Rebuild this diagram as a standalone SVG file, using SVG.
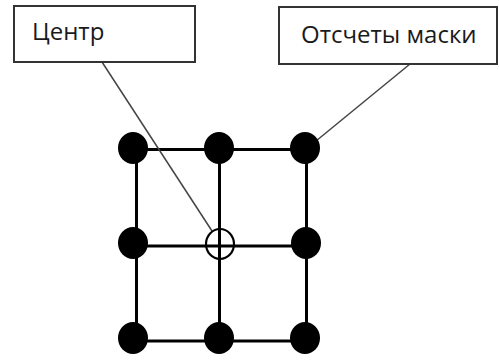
<svg xmlns="http://www.w3.org/2000/svg" width="499" height="361" viewBox="0 0 499 361">
  <style>
    .box { fill: #fff; stroke: #333; stroke-width: 2; }
    .label { font-family: "Open Sans", "Liberation Sans", sans-serif; font-size: 24px; fill: #1a1a1a; }
    .grid { stroke: #000; stroke-width: 3; fill: none; }
    .dot { fill: #000; }
    .callout { stroke: #444; stroke-width: 1.5; fill: none; }
  </style>
  <rect width="499" height="361" fill="#fff"/>

  <!-- mask grid -->
  <g id="grid">
    <line class="grid" x1="136.5" y1="149.5" x2="136.5" y2="341"/>
    <line class="grid" x1="219.5" y1="149.5" x2="219.5" y2="341"/>
    <line class="grid" x1="306.5" y1="149.5" x2="306.5" y2="341"/>
    <line class="grid" x1="136.5" y1="149.5" x2="306.5" y2="149.5"/>
    <line class="grid" x1="136.5" y1="246" x2="306.5" y2="246"/>
    <line class="grid" x1="136.5" y1="341" x2="306.5" y2="341"/>
  </g>

  <!-- leader lines -->
  <g id="connectors">
    <line class="callout" x1="102" y1="62" x2="212" y2="231"/>
    <line class="callout" x1="410" y1="64" x2="316" y2="141"/>
  </g>

  <!-- mask samples -->
  <g id="samples">
    <ellipse class="dot" cx="133" cy="148" rx="15" ry="16"/>
    <ellipse class="dot" cx="219" cy="148" rx="15" ry="16"/>
    <ellipse class="dot" cx="305" cy="148" rx="15" ry="16"/>
    <ellipse class="dot" cx="133" cy="243" rx="15" ry="16"/>
    <ellipse class="dot" cx="306" cy="243" rx="15" ry="16"/>
    <ellipse class="dot" cx="133" cy="338" rx="15" ry="16"/>
    <ellipse class="dot" cx="219" cy="338" rx="15" ry="16"/>
    <ellipse class="dot" cx="305" cy="338" rx="15" ry="16"/>
  </g>

  <!-- centre point -->
  <g id="center">
    <ellipse cx="220" cy="244" rx="14" ry="15" fill="none" stroke="#000" stroke-width="2.2"/>
  </g>

  <g id="label-center">
    <rect class="box" x="14" y="6" width="181" height="56"/>
    <text class="label" x="32" y="40">Центр</text>
  </g>

  <g id="label-samples">
    <rect class="box" x="279" y="7" width="218" height="57"/>
    <text class="label" x="301" y="43">Отсчеты маски</text>
  </g>
</svg>
